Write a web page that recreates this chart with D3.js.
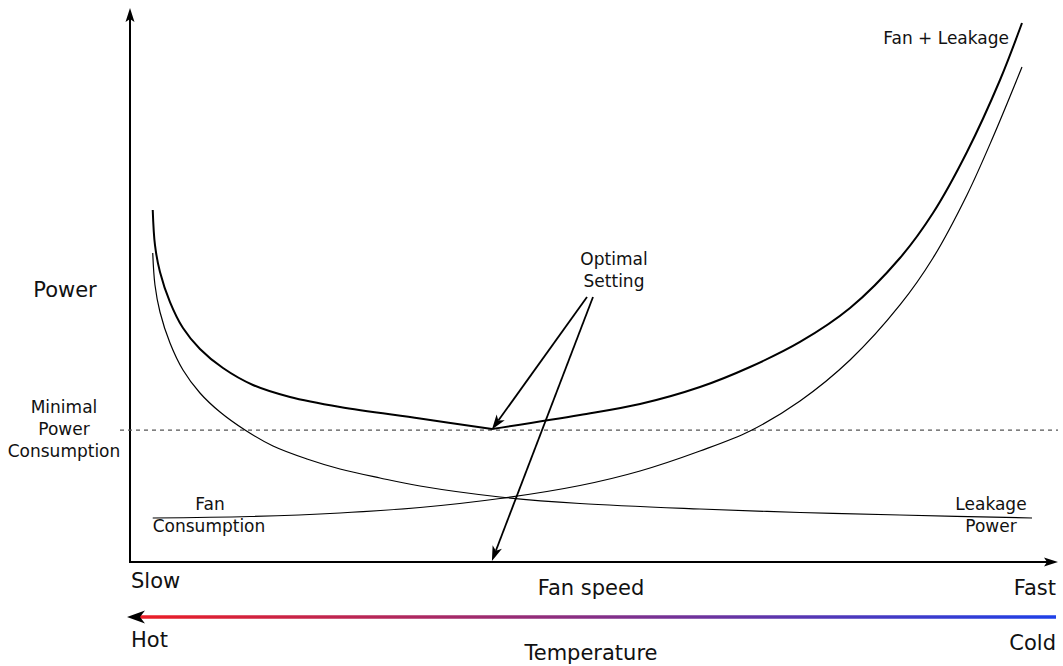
<!DOCTYPE html>
<html>
<head>
<meta charset="utf-8">
<script src="https://cdn.jsdelivr.net/npm/d3@7"></script>
<style>
  html, body { margin: 0; padding: 0; background: #fff; }
  svg { display: block; font-family: "DejaVu Sans", Verdana, sans-serif; }
</style>
</head>
<body>
<svg id="chart" width="1063" height="666"></svg>
<script>
// ---- data (fan speed 0..100, power 0..100) ----
const fanPlusLeakageX = [2.45, 2.69, 3.23, 4.31, 5.71, 7.54, 10.02, 13.25, 17.24, 22.63, 31.25, 39.01, 48.49, 54.96, 61.42, 66.81, 72.20, 77.59, 82.97, 86.53, 90.19, 93.75, 96.12];
const fanPlusLeakageY = [63.77, 57.43, 52.54, 47.10, 42.39, 38.59, 35.14, 32.07, 29.89, 28.08, 26.00, 24.09, 26.63, 28.62, 31.70, 35.33, 39.86, 46.01, 55.07, 63.22, 74.28, 87.32, 97.64];

const leakageX = [2.45, 2.69, 3.23, 4.31, 5.71, 7.54, 9.70, 12.39, 15.41, 19.07, 22.63, 26.94, 31.25, 39.87, 48.49, 61.42, 72.20, 82.97, 97.20];
const leakageY = [55.98, 50.18, 45.29, 39.67, 34.78, 30.62, 27.17, 23.91, 21.01, 18.66, 16.85, 15.22, 13.77, 11.78, 10.60, 9.60, 8.97, 8.51, 7.97];

const fanX = [2.45, 12.93, 22.63, 31.25, 39.87, 48.49, 54.96, 61.42, 66.81, 72.20, 77.59, 82.97, 86.53, 90.19, 93.00, 96.12];
const fanY = [7.97, 8.24, 8.88, 9.87, 11.50, 13.86, 16.49, 20.11, 23.73, 29.17, 36.59, 46.56, 55.07, 66.49, 76.99, 89.67];

const minimalPower = 23.9;
const optimalSpeed = 39.0;
const axisLabels = { slow: "Slow", fast: "Fast", xTitle: "Fan speed", yTitle: "Power", hot: "Hot", cold: "Cold", tTitle: "Temperature" };
const gradientColors = ["#ee1d23", "#1e40e8"];

// ---- layout ----
const svg = d3.select("#chart");
const x = d3.scaleLinear().domain([0, 100]).range([130, 1058]);
const y = d3.scaleLinear().domain([0, 100]).range([562, 10]);

function arrow(g, x1, y1, x2, y2, opts) {
  const o = Object.assign({ len: 14, half: 5, notch: 4, width: 2, color: "#000" }, opts || {});
  const dx = x2 - x1, dy = y2 - y1, L = Math.hypot(dx, dy);
  const ux = dx / L, uy = dy / L, px = -uy, py = ux;
  const bx = x2 - ux * o.len, by = y2 - uy * o.len;
  const nx = x2 - ux * (o.len - o.notch), ny = y2 - uy * (o.len - o.notch);
  g.append("line")
    .attr("x1", x1).attr("y1", y1)
    .attr("x2", nx).attr("y2", ny)
    .attr("stroke", o.stroke || o.color).attr("stroke-width", o.width);
  g.append("path")
    .attr("d", `M${x2},${y2}L${bx + px * o.half},${by + py * o.half}L${nx},${ny}L${bx - px * o.half},${by - py * o.half}Z`)
    .attr("fill", o.color);
}

const g = svg.append("g");

// axes
arrow(g, x(0), y(0) + 1, x(0), y(100) - 2, { len: 14, half: 4.5, notch: 3, width: 2 });
arrow(g, x(0) - 1, y(0), x(100), y(0), { len: 14, half: 4.5, notch: 3, width: 2 });

// minimal power dashed line
g.append("line")
  .attr("x1", 120).attr("x2", x(100))
  .attr("y1", y(minimalPower)).attr("y2", y(minimalPower))
  .attr("stroke", "#555").attr("stroke-width", 1.2)
  .attr("stroke-dasharray", "4,4");

// curves
const line = d3.line().x(d => x(d[0])).y(d => y(d[1])).curve(d3.curveCatmullRom.alpha(0.5));
const leak = d3.zip(leakageX, leakageY);
const fan = d3.zip(fanX, fanY);
const sum = d3.zip(fanPlusLeakageX, fanPlusLeakageY);
const iMin = d3.minIndex(fanPlusLeakageY);

g.append("path").attr("d", line(leak)).attr("fill", "none").attr("stroke", "#000").attr("stroke-width", 1.2);
g.append("path").attr("d", line(fan)).attr("fill", "none").attr("stroke", "#000").attr("stroke-width", 1.2);
g.append("path").attr("d", line(sum.slice(0, iMin + 1))).attr("fill", "none").attr("stroke", "#000").attr("stroke-width", 2);
g.append("path").attr("d", line(sum.slice(iMin))).attr("fill", "none").attr("stroke", "#000").attr("stroke-width", 2);

// optimal setting arrows
arrow(g, 587, 297, x(optimalSpeed), y(fanPlusLeakageY[iMin]) + 0.5, { len: 15, half: 5, notch: 4, width: 1.8 });
arrow(g, 593, 297, x(optimalSpeed), y(0) - 1, { len: 15, half: 5, notch: 4, width: 1.8 });

// temperature gradient arrow
const defs = svg.append("defs");
const grad = defs.append("linearGradient").attr("id", "tgrad")
  .attr("gradientUnits", "userSpaceOnUse")
  .attr("x1", 127).attr("x2", 1056).attr("y1", 0).attr("y2", 0);
grad.append("stop").attr("offset", "0%").attr("stop-color", gradientColors[0]);
grad.append("stop").attr("offset", "100%").attr("stop-color", gradientColors[1]);
arrow(g, 1056, 617, 127, 617, { len: 18, half: 6.5, notch: 5, width: 3.5, stroke: "url(#tgrad)", color: "#000" });

// text
function txt(t, tx, ty, size, anchor) {
  g.append("text").attr("x", tx).attr("y", ty)
    .attr("font-size", size).attr("text-anchor", anchor || "start")
    .attr("fill", "#111").text(t);
}
txt("Fan + Leakage", 1009, 44, 17, "end");
txt("Optimal", 614, 265, 17, "middle");
txt("Setting", 614, 287, 17, "middle");
txt("Minimal", 64, 413, 17, "middle");
txt("Power", 64, 435, 17, "middle");
txt("Consumption", 64, 457, 17, "middle");
txt("Fan", 210, 510, 17, "middle");
txt("Consumption", 209, 532, 17, "middle");
txt("Leakage", 991, 510, 17, "middle");
txt("Power", 991, 532, 17, "middle");
txt(axisLabels.yTitle, 65, 297, 21, "middle");
txt(axisLabels.slow, 131, 588, 21, "start");
txt(axisLabels.fast, 1056, 595, 21, "end");
txt(axisLabels.xTitle, 591, 595, 21, "middle");
txt(axisLabels.hot, 131, 647, 21, "start");
txt(axisLabels.cold, 1056, 650, 21, "end");
txt(axisLabels.tTitle, 591, 660, 21, "middle");
</script>
</body>
</html>
